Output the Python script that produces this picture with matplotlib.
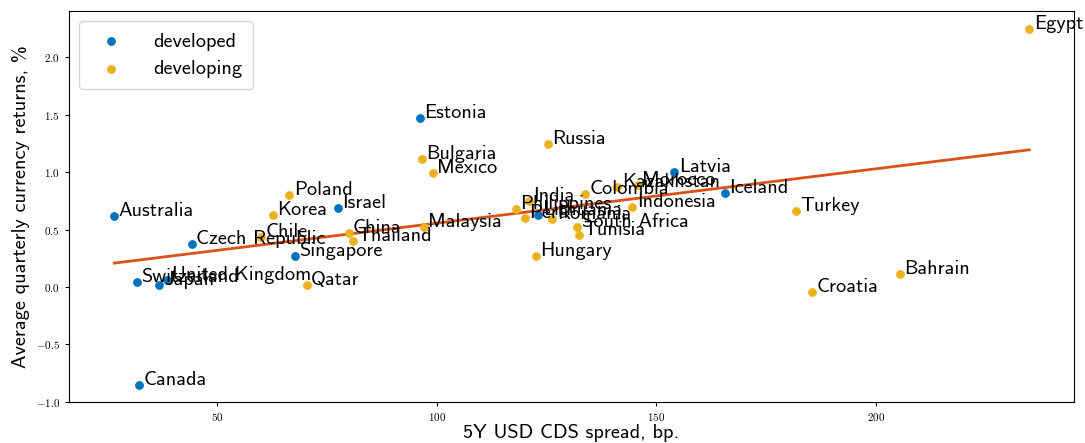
import numpy as np
import matplotlib
matplotlib.use("Agg")
import matplotlib.pyplot as plt

plt.rcParams["font.family"] = "cmr10"
plt.rcParams["mathtext.fontset"] = "cm"
plt.rcParams["axes.formatter.use_mathtext"] = True

# developed markets: 5Y USD CDS spread (bp) vs average quarterly FX return (%)
dev_names = ["Australia", "Czech Republic", "Switzerland", "Japan", "United Kingdom",
             "Canada", "Singapore", "Israel", "Estonia", "Lithuania", "Latvia", "Iceland"]
dev_cds = [26.5, 44.1, 31.7, 36.8, 38.6, 32.2, 67.6, 77.4, 96.1, 123.1, 154.1, 165.5]
dev_ret = [0.62, 0.37, 0.045, 0.02, 0.06, -0.85, 0.27, 0.69, 1.47, 0.63, 1.00, 0.82]

# developing markets
emg_names = ["Poland", "Korea", "Chile", "Qatar", "China", "Thailand", "Malaysia",
             "Bulgaria", "Mexico", "Russia", "India", "Philippines", "Peru", "Romania",
             "Colombia", "South Africa", "Tunisia", "Hungary", "Kazakhstan", "Morocco",
             "Indonesia", "Turkey", "Croatia", "Bahrain", "Egypt"]
emg_cds = [66.4, 62.6, 60.0, 70.3, 79.9, 80.8, 97.0, 96.6, 99.1, 125.3, 121.0, 118.0,
           120.1, 126.3, 133.8, 132.0, 132.4, 122.6, 141.1, 145.7, 144.5, 181.7, 185.4,
           205.5, 234.9]
emg_ret = [0.80, 0.63, 0.435, 0.02, 0.47, 0.40, 0.52, 1.11, 0.99, 1.24, 0.75, 0.68,
           0.60, 0.59, 0.81, 0.52, 0.45, 0.27, 0.87, 0.89, 0.70, 0.66, -0.04, 0.11, 2.24]

BLUE = "#0072BD"
YELLOW = "#EDB120"
RED = "#D95319"
FS = 14.6

fig = plt.figure(figsize=(10.85, 4.43), dpi=100)
ax = fig.add_axes([0.0636, 0.0926, 0.9263, 0.8824])

ax.scatter(dev_cds, dev_ret, s=28, color=BLUE, label="developed", zorder=3)
ax.scatter(emg_cds, emg_ret, s=28, color=YELLOW, label="developing", zorder=3)

# least-squares fit across all countries
all_x = np.array(dev_cds + emg_cds)
all_y = np.array(dev_ret + emg_ret)
slope, icpt = np.polyfit(all_x, all_y, 1)
xs = np.array([all_x.min(), all_x.max()])
ax.plot(xs, icpt + slope * xs, color=RED, lw=2, zorder=2)

for names, xv, yv in [(dev_names, dev_cds, dev_ret), (emg_names, emg_cds, emg_ret)]:
    for n, x, y in zip(names, xv, yv):
        ax.text(x + 1, y, n, fontsize=FS, family="cmss10", zorder=4)

ax.set_xlim(16.2, 245.1)
ax.set_ylim(-1.0, 2.4)
ax.set_xticks([50, 100, 150, 200])
ax.set_yticks([-1.0, -0.5, 0.0, 0.5, 1.0, 1.5, 2.0])
ax.tick_params(labelsize=8, length=3)
ax.set_xlabel("5Y USD CDS spread, bp.", fontsize=FS, family="cmss10", labelpad=1)
ax.set_ylabel("Average quarterly currency returns, %", fontsize=FS, family="cmss10")

ax.legend(loc="upper left", prop={"family": "cmss10", "size": FS},
          handletextpad=1.1, borderpad=0.55, labelspacing=0.45)

fig.savefig("out.png", dpi=100)
